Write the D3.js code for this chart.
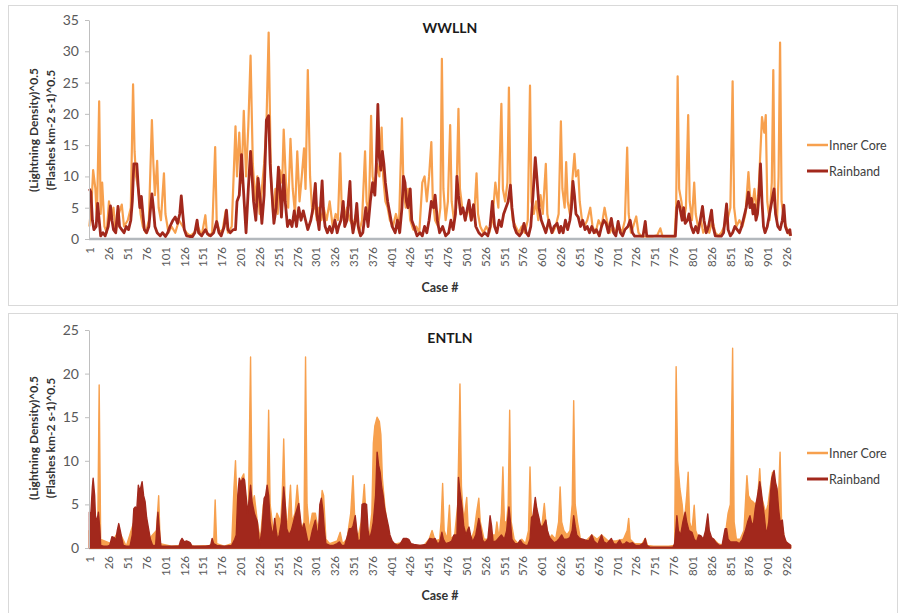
<!DOCTYPE html>
<html>
<head>
<meta charset="utf-8">
<script src="https://cdn.jsdelivr.net/npm/d3@7"></script>
<style>
  html, body { margin: 0; padding: 0; background: #fff; }
  svg { display: block; }
  text { font-family: Lato, "Open Sans", "Liberation Sans", sans-serif; }
</style>
</head>
<body>
<svg id="chart" width="899" height="613"></svg>
<script>
// ---------------- DATA ----------------
const categoryLabels = [1,26,51,76,101,126,151,176,201,226,251,276,301,326,351,376,401,426,451,476,501,526,551,576,601,626,651,676,701,726,751,776,801,826,851,876,901,926];
const caseCount = 932;
const topYTicks = [0,5,10,15,20,25,30,35];
const bottomYTicks = [0,5,10,15,20,25];
const seriesNames = ["Inner Core", "Rainband"];
const panelTitles = ["WWLLN", "ENTLN"];

// [case #, value]
const wwllnInner = [[1,2],[4,6],[6,11],[9,8],[11,3],[14,22],[16,4],[18,9],[21,2],[24,1],[27,6],[30,3],[33,5],[36,1],[40,4],[44,5.5],[47,2],[52,3],[56,5],[59,24.7],[61,14],[63,10],[66,8],[69,4],[72,2],[76,1],[80,3],[84,19],[86,12],[88,7],[91,12.5],[93,5],[96,3],[100,10.5],[102,4],[106,1],[110,2],[115,1],[120,3],[125,2],[130,1],[135,0.5],[140,1],[145,2],[150,0.5],[155,3.8],[157,1],[160,0.5],[164,1],[168,14.7],[170,3],[174,1],[178,1.5],[182,4.5],[185,1],[190,2],[195,18],[197,10],[200,17],[203,9],[206,20.5],[209,10],[212,18],[215,29.3],[218,12],[221,6],[224,10],[227,4],[230,8],[233,12],[236,18],[239,33],[242,10],[245,4],[248,8],[251,4],[254,11],[257,9],[259,17.5],[262,9],[265,5],[268,16],[271,8],[274,4],[277,14],[280,6],[283,10],[286,14.5],[288,8],[291,27],[294,10],[297,4],[300,6],[303,3],[306,5],[309,3],[312,5],[316,3],[320,6],[324,2],[328,4],[331,3],[334,13.7],[336,5],[339,3],[343,5],[347,3],[351,2],[355,4],[359,1],[363,3],[367,14],[369,6],[372,4],[375,19.7],[377,10],[380,8],[383,12],[386,10],[389,17.8],[391,10],[394,6],[397,5],[400,3],[404,2],[408,4],[412,2],[416,19.3],[418,8],[421,5],[424,8],[427,3],[431,1.5],[435,2],[439,1],[443,9],[446,10],[449,6],[452,10],[455,15.5],[457,6],[460,3],[464,2],[467,5],[469,28.8],[471,8],[474,3],[477,6],[480,18.2],[482,6],[485,3],[488,5],[491,20.8],[493,8],[496,5],[500,3],[504,5],[508,3],[512,4],[515,10.5],[517,4],[520,2],[524,1],[528,2],[532,1],[536,3],[540,9],[544,5],[548,21.6],[550,8],[553,6],[556,9],[558,24.2],[560,8],[563,3],[567,2],[571,1],[575,2],[579,1],[583,3],[586,24.5],[588,6],[591,4],[594,6],[597,3],[600,7],[603,4],[607,12],[609,4],[612,2],[616,1],[620,2],[624,4],[627,18.8],[629,8],[632,5],[634,12.3],[636,6],[639,4],[642,9],[645,13.6],[647,10],[650,11],[652,6],[655,3],[658,2],[662,3],[666,5],[669,2],[673,1],[677,3],[681,2],[685,5],[688,3],[692,1],[696,2],[700,1],[704,2],[708,1],[712,3],[715,14.6],[717,4],[720,1],[723,2],[727,3.6],[730,1],[734,0.4],[740,0.4],[748,0.4],[755,0.6],[759,1.7],[762,0.4],[770,0.4],[778,0.4],[780,5],[782,26],[784,8],[787,6],[790,3],[793,5],[796,19.8],[798,6],[801,3],[804,9],[806,4],[809,2],[813,3],[816,1],[820,2],[824,1],[828,3],[832,1],[836,0.5],[840,1],[844,2],[848,3],[852,5],[855,25.2],[857,5],[860,2],[864,3],[868,2],[872,4],[876,10.7],[878,7],[881,5],[884,8],[887,4],[890,9],[894,19.5],[897,17],[899,19.8],[901,6],[904,3],[907,9],[909,27],[911,5],[914,3],[916,10],[918,31.4],[920,6],[923,3],[926,2],[929,1],[932,0.5]];

const wwllnRain = [[1,8],[3,7.5],[5,3],[7,1.5],[10,2],[12,5.7],[14,3],[16,0.5],[19,1],[22,0.5],[26,2],[29,5.3],[31,3],[33,1.5],[36,1],[39,5.2],[41,2],[44,1.5],[47,1],[50,2],[53,1.5],[56,3],[58,6],[60,12],[64,12],[66,8],[68,5],[70,6.8],[72,4],[74,1.5],[77,1],[80,2],[84,7.2],[86,5],[88,2],[91,1],[95,0.5],[98,1],[102,0.4],[105,1],[108,2],[112,3],[115,3.5],[118,2.5],[121,4],[123,6.9],[125,4],[127,1.5],[130,0.5],[134,0.4],[138,0.4],[141,1],[144,3],[146,1],[150,0.5],[155,1.5],[158,0.8],[162,0.5],[166,1],[170,2.8],[173,1],[176,0.5],[180,2],[183,4.6],[185,1.5],[188,1],[192,1.5],[195,1.5],[197,6],[200,7],[203,13.5],[205,9],[207,5],[209,1],[212,8],[215,14],[217,10],[219,6],[222,3],[225,9.7],[228,6],[230,2.5],[233,7],[236,19],[239,19.7],[241,12],[243,8],[246,2.5],[249,5],[252,11.5],[254,8],[256,3.5],[259,10.2],[261,6],[264,2],[267,3],[270,2],[273,4.5],[276,2],[279,5],[282,3],[285,4.5],[288,3],[291,1.5],[295,3],[298,5],[301,8.9],[303,4],[306,1.5],[310,9.3],[312,4],[314,2],[317,1],[320,2],[323,1],[327,3],[330,1],[332,2],[335,3],[338,6],[340,2],[343,3],[347,9.2],[349,3],[351,1],[354,3],[356,5.7],[358,2],[361,0.5],[364,1],[366,3],[368,5],[371,2],[374,6],[377,9],[380,7],[382,12],[384,21.5],[386,13],[388,11],[390,14],[392,12],[394,9],[397,6],[400,4],[403,2],[407,1],[410,3],[413,1],[416,5],[418,10],[420,9],[422,6],[424,5],[427,8],[429,3],[432,2],[436,0.5],[440,1],[443,0.5],[446,2],[449,1],[452,3],[455,6],[458,5],[460,7],[463,3],[466,1],[470,2],[474,0.5],[478,1],[481,3],[484,1.5],[487,4],[489,10],[491,7],[494,4],[497,5],[500,3],[503,5],[505,6.2],[508,3],[511,5.5],[514,2],[518,1],[522,0.5],[526,1],[530,0.5],[533,2],[536,6],[539,2],[542,1],[545,3],[548,2],[551,4],[554,5],[557,6],[560,8.6],[562,5],[565,2],[568,1],[572,0.5],[575,1],[578,2.5],[581,1],[584,0.5],[587,2],[590,7],[593,13],[595,10],[598,5],[601,3],[604,2],[607,1],[611,3],[615,1],[618,2],[622,2.5],[625,1],[627,2],[630,1],[633,3],[636,1.5],[639,3],[641,5],[643,9.2],[645,7],[647,4],[650,3.5],[653,2],[656,3],[659,1.5],[662,2],[665,1],[668,2],[671,1],[674,1.5],[678,0.5],[681,2],[684,3],[687,2.5],[690,1],[694,3.3],[697,1],[700,0.5],[703,2.8],[706,1],[709,0.5],[712,1.5],[716,2],[719,3],[722,1],[725,0.45],[730,0.45],[736,0.45],[739,2.8],[741,0.45],[750,0.45],[760,0.45],[770,0.45],[779,0.45],[781,5],[783,6],[785,5],[788,3],[790,5],[792,2.5],[795,3],[797,4],[800,2],[803,1],[806,2],[809,1],[812,3],[815,5.2],[817,3],[820,1],[823,2],[827,4.6],[829,2],[832,0.5],[836,0.45],[840,0.45],[843,1],[847,5.6],[849,1.5],[852,0.5],[855,1],[858,2],[861,1.5],[864,1],[867,2],[870,3.5],[873,5],[876,7.5],[878,5],[880,6.5],[882,4],[884,5.5],[886,3],[888,4],[890,7],[892,12],[894,6],[896,2],[898,1],[901,2],[904,4],[907,6],[910,8],[912,4],[915,2],[918,1.5],[921,3],[923,5.4],[925,2],[928,1],[931,1.5],[932,0.5]];

const entlnInner = [[1,2],[12,1],[14,18.7],[16,1],[30,0.5],[40,2],[50,0.2],[60,3],[70,5],[80,1],[90,2],[93,6],[95,0.5],[110,0.2],[120,0.3],[130,0.5],[140,0.2],[160,0.3],[166,0.5],[168,5.5],[170,0.5],[180,0.2],[190,0.5],[193,7],[195,10],[197,5],[200,6],[203,8],[206,8.5],[209,5],[212,4],[215,21.9],[217,5],[220,6],[224,3],[228,1],[232,5],[237,6],[239,15.8],[241,5],[245,2],[250,4],[255,3],[257,6],[259,12.5],[261,5],[264,2],[268,7.2],[270,3],[274,4],[277,7.2],[279,5],[282,2],[286,3],[288,21.9],[290,5],[293,2],[297,4],[301,4],[305,2],[308,4],[310,6.6],[312,6],[315,1],[320,0.5],[330,0.8],[334,1.8],[337,0.5],[343,1],[348,4],[351,8.3],[353,4],[357,1],[362,3],[366,7.3],[368,4],[372,1],[376,4],[378,12],[380,14],[383,15],[386,14.5],[388,13],[390,8],[393,5],[397,2.2],[400,1],[405,0.4],[415,0.6],[425,0.5],[435,0.3],[445,0.3],[452,1],[456,2],[460,0.8],[466,1],[468,3],[470,7.4],[472,2],[476,1],[479,4.9],[481,1],[486,1.5],[490,5],[493,18.8],[495,7],[498,3],[502,5.8],[504,2],[508,1],[512,2],[515,4],[518,5.7],[520,3],[525,1],[530,1],[535,1.5],[540,1.5],[542,3],[545,1],[548,4],[550,9.3],[552,3],[555,3],[557,5],[559,15.8],[561,3],[565,1],[570,0.5],[575,1],[580,0.5],[584,2],[586,9.3],[588,3],[591,4],[594,5],[597,3],[601,2],[605,5.1],[607,3],[611,1],[615,1.5],[620,1],[624,3],[626,7],[628,3],[631,2],[635,1.5],[639,2],[642,5],[644,16.9],[646,5],[649,3],[653,1],[660,0.8],[668,1.5],[675,1],[681,1.5],[690,0.8],[700,0.8],[710,1],[715,2],[717,3.4],[719,1],[725,0.5],[735,0.5],[739,1.1],[742,0.3],[750,0.2],[760,0.2],[770,0.2],[778,0.3],[780,20.8],[782,10],[785,6.8],[788,5],[790,3],[792,4],[794,6],[796,8.7],[798,3],[801,2],[804,4.9],[806,2],[810,1],[815,1],[820,1.5],[825,1],[830,1],[836,0.5],[842,0.3],[846,2],[849,4],[852,5],[855,22.9],[857,3],[860,1],[865,1],[870,2],[874,8.3],[876,6],[879,5.5],[882,5.3],[885,5],[888,5.5],[891,9.1],[893,6],[896,5],[899,4],[902,5],[905,7],[908,8.7],[911,6],[914,4],[916,6],[918,11],[920,3],[924,1],[928,0.5],[932,0.3]];

const entlnRain = [[1,4.1],[3,4],[5,7],[6,8],[8,6],[9,3.7],[11,3],[13,4.1],[15,2],[16,0.3],[20,0.2],[25,0.2],[28,0.3],[31,1.3],[34,1.2],[36,0.8],[38,2],[40,2.8],[42,2],[44,1.1],[46,0.3],[50,0.2],[55,0.2],[58,1.5],[60,4.5],[62,4.7],[64,4.5],[66,7.2],[68,6.5],[71,7.6],[73,6],[75,5.3],[77,3.5],[80,2],[82,1],[85,0.3],[89,0.3],[91,3],[92,4.1],[94,2],[96,0.2],[100,0.2],[110,0.2],[120,0.2],[122,0.8],[124,1.1],[127,0.7],[130,0.8],[133,0.7],[135,0.6],[137,0.2],[145,0.2],[155,0.2],[162,0.3],[164,1.1],[166,0.5],[170,0.3],[180,0.2],[190,0.3],[194,1],[196,1.5],[198,6],[200,8],[202,7.5],[205,8],[207,7.8],[209,6],[211,4],[213,5.5],[215,7.2],[217,5.3],[220,4],[222,3.5],[224,3],[227,0.3],[230,2],[233,5.7],[235,6],[237,7.2],[239,6],[241,3],[243,2],[245,1.5],[247,3.4],[249,2],[251,0.9],[253,1.5],[256,3],[259,7],[261,5],[263,2.2],[266,1.5],[269,2],[272,3],[275,4],[279,5.1],[281,3.5],[283,2],[286,2.8],[288,2],[291,0.7],[294,0.8],[297,2],[301,3.2],[303,2],[305,1.5],[307,5],[309,5.7],[311,4.3],[313,2],[315,0.5],[320,0.3],[325,0.3],[330,0.5],[333,0.7],[336,0.3],[340,0.3],[344,1.5],[346,2.2],[349,2.2],[351,2.5],[354,3.7],[356,2],[358,0.7],[361,1],[363,5],[366,5.1],[369,5],[371,2],[373,1],[376,2],[378,3],[381,6],[383,11],[385,9.5],[387,8.7],[389,7],[391,6],[393,4.5],[395,3.7],[398,2.5],[400,1.5],[403,0.8],[406,0.5],[410,0.3],[414,0.5],[418,1.1],[422,1.1],[425,1],[428,0.5],[432,0.4],[440,0.3],[448,0.4],[453,1.1],[457,1],[460,1.1],[463,0.5],[466,0.6],[469,1.8],[471,1],[474,0.5],[478,0.6],[482,0.8],[485,1.5],[489,1.5],[491,8.1],[493,6.5],[496,4.5],[498,2.5],[501,1.5],[503,2],[505,2.4],[507,1.5],[510,0.7],[514,1.5],[518,3.4],[520,2.5],[523,0.9],[526,0.6],[530,1],[533,3.7],[535,2.5],[537,0.7],[541,0.8],[545,1.2],[548,1.5],[552,1],[555,2],[558,4.7],[560,3],[562,1],[566,0.5],[570,0.5],[573,0.9],[576,0.5],[580,0.3],[583,0.3],[586,1],[588,3.5],[590,3.7],[593,5.8],[595,4.5],[598,3.4],[600,2.5],[603,2.5],[607,3.2],[609,2],[612,1.2],[615,0.9],[618,0.6],[622,0.8],[625,1.1],[628,1.5],[631,1],[635,1],[639,1.2],[642,2],[644,3.7],[646,2.5],[648,1.5],[652,1.1],[656,1],[660,0.9],[664,0.8],[668,1.5],[671,0.8],[676,0.4],[681,1.5],[684,0.7],[688,0.5],[694,1.1],[697,0.5],[701,0.4],[705,0.9],[708,0.4],[712,0.5],[714,0.7],[718,0.5],[722,0.6],[726,0.3],[732,0.3],[737,0.6],[739,1.1],[741,0.3],[745,0.1],[755,0.1],[765,0.1],[776,0.1],[778,0.5],[780,2.5],[781,3.7],[783,2],[786,1.5],[789,3],[792,4.1],[794,3],[797,2],[801,1.8],[804,1],[807,0.7],[810,1.5],[813,1.4],[816,1],[819,2],[822,3.9],[824,2],[827,1.2],[830,1],[833,0.6],[837,0.3],[841,0.3],[845,2.2],[847,2.2],[849,1],[852,0.7],[856,0.7],[860,0.7],[864,0.5],[868,1],[872,2],[875,3],[878,3.7],[881,2.5],[883,3],[885,4.5],[887,5.5],[889,6.5],[891,7.6],[893,6.5],[895,5],[897,3.7],[899,2],[901,2],[903,3],[905,6],[907,8],[910,8.9],[912,7.5],[914,6.8],[916,4.5],[918,3],[921,3.2],[923,1.5],[926,0.7],[929,0.5],[932,0.3]];

// ---------------- DRAWING ----------------
const ORANGE = "#F7A04E";
const RED = "#A2281C";
const svg = d3.select("#chart");

const x = d3.scaleLinear().domain([0.5, caseCount + 0.5]).range([89, 791]);

const panels = [
  { title: panelTitles[0], top: 5, height: 300, y: d3.scaleLinear().domain([0,35]).range([239,20]), ticks: topYTicks,
    inner: wwllnInner, rain: wwllnRain, kind: "line", titleY: 33, caseY: 292, yTitleY: 130, legY: [145,171] },
  { title: panelTitles[1], top: 313, height: 310, y: d3.scaleLinear().domain([0,25]).range([548,330]), ticks: bottomYTicks,
    inner: entlnInner, rain: entlnRain, kind: "area", titleY: 343, caseY: 600, yTitleY: 438, legY: [453,479] }
];

panels.forEach(p => {
  const g = svg.append("g");
  g.append("rect").attr("x", 8.5).attr("y", p.top + 0.5).attr("width", 889).attr("height", p.height)
    .attr("fill", "#fff").attr("stroke", "#d9d9d9").attr("stroke-width", 1);

  const y = p.y;
  const y0 = y(0);

  g.append("line").attr("x1", 89).attr("x2", 791).attr("y1", y0).attr("y2", y0)
    .attr("stroke", "#b3b8bd").attr("stroke-width", 2.5);

  if (p.kind === "line") {
    const line = d3.line().x(d => x(d[0])).y(d => y(d[1]));
    g.append("path").datum(p.inner).attr("d", line).attr("fill", "none")
      .attr("stroke", ORANGE).attr("stroke-width", 2.2).attr("stroke-linejoin", "round");
    g.append("path").datum(p.rain).attr("d", line).attr("fill", "none")
      .attr("stroke", RED).attr("stroke-width", 2.8).attr("stroke-linejoin", "round");
  } else {
    const area = d3.area().x(d => x(d[0])).y0(y0).y1(d => y(d[1]));
    g.append("path").datum(p.inner).attr("d", area).attr("fill", ORANGE)
      .attr("stroke", ORANGE).attr("stroke-width", 1.4).attr("stroke-linejoin", "round");
    g.append("path").datum(p.rain).attr("d", area).attr("fill", RED)
      .attr("stroke", RED).attr("stroke-width", 1.4).attr("stroke-linejoin", "round");
  }

  const yAxis = d3.axisLeft(y).tickValues(p.ticks).tickSize(4).tickPadding(6).tickSizeOuter(0);
  const ya = g.append("g").attr("transform", "translate(89,0)").call(yAxis);
  ya.select(".domain").attr("stroke", "#bfbfbf");
  ya.selectAll(".tick line").attr("stroke", "#bfbfbf");
  ya.selectAll(".tick text").attr("fill", "#595959").style("font-size", "14px")
    .style("font-family", "Lato, 'Open Sans', sans-serif");

  const xAxis = d3.axisBottom(x).tickValues(categoryLabels).tickSize(0).tickPadding(0).tickFormat(d3.format("d"));
  const xa = g.append("g").attr("transform", `translate(0,${y0})`).call(xAxis);
  xa.select(".domain").remove();
  xa.selectAll(".tick text")
    .attr("fill", "#595959").style("font-size", "11.5px").style("font-family", "Lato, 'Open Sans', sans-serif")
    .attr("text-anchor", "end").attr("dy", null)
    .attr("dominant-baseline", "central")
    .attr("transform", "translate(0,8) rotate(-90)")
    .attr("y", 0).attr("x", 0);

  g.append("text").attr("x", 450).attr("y", p.titleY).attr("text-anchor", "middle")
    .attr("font-weight", "bold").attr("font-size", 14).attr("fill", "#1a1a1a").text(p.title);
  g.append("text").attr("x", 440).attr("y", p.caseY).attr("text-anchor", "middle")
    .attr("font-weight", "bold").attr("font-size", 12.5).attr("fill", "#333").text("Case #");

  const yt = g.append("text").attr("transform", `translate(0,${p.yTitleY}) rotate(-90)`)
    .attr("text-anchor", "middle").attr("font-weight", "bold").attr("font-size", 12).attr("fill", "#333");
  yt.append("tspan").attr("x", 0).attr("y", 38).text("(Lightning Density)^0.5");
  yt.append("tspan").attr("x", 0).attr("y", 55).text("(Flashes km-2 s-1)^0.5");

  [ORANGE, RED].forEach((c, i) => {
    const ly = p.legY[i];
    g.append("line").attr("x1", 807).attr("x2", 828).attr("y1", ly).attr("y2", ly)
      .attr("stroke", c).attr("stroke-width", i === 0 ? 2.5 : 3);
    g.append("text").attr("x", 829).attr("y", ly).attr("dominant-baseline", "central")
      .attr("font-size", 12.5).attr("fill", "#404040").text(seriesNames[i]);
  });
});
</script>
</body>
</html>
